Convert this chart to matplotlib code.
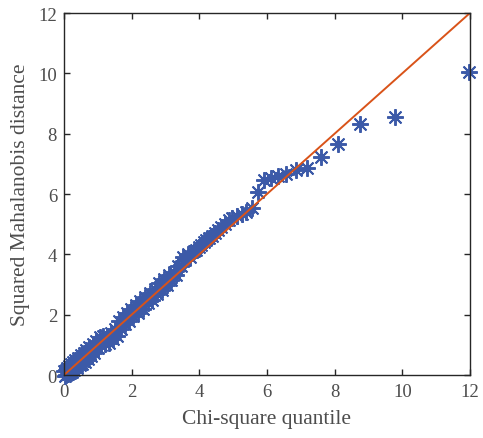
import numpy as np
import matplotlib
matplotlib.use("Agg")
import matplotlib.pyplot as plt

### chi-square quantiles (x) vs squared Mahalanobis distances (y)
chi_q = [0.01, 0.03, 0.05, 0.07, 0.09, 0.12, 0.15, 0.18, 0.21, 0.24,
         0.27, 0.30, 0.34, 0.38, 0.42, 0.46, 0.50, 0.54, 0.58, 0.62,
         0.66, 0.70, 0.75, 0.80, 0.85, 0.90, 0.95, 1.00, 1.05, 1.10,
         1.15, 1.20, 1.26, 1.32, 1.38, 1.44, 1.50, 1.56, 1.62, 1.68,
         1.74, 1.80, 1.86, 1.92, 1.98, 2.05, 2.12, 2.19, 2.26, 2.33,
         2.40, 2.47, 2.54, 2.61, 2.68, 2.75, 2.82, 2.89, 2.96, 3.03,
         3.10, 3.17, 3.24, 3.31, 3.38, 3.45, 3.52, 3.59, 3.66, 3.73,
         3.83, 3.91, 3.98, 4.05, 4.13, 4.20, 4.28, 4.37, 4.46, 4.55,
         4.65, 4.75, 4.87, 4.98, 5.11, 5.25, 5.39, 5.55, 5.73, 5.91,
         6.11, 6.33, 6.57, 6.86, 7.19, 7.59, 8.09, 8.76, 9.78, 11.98]
maha_d2 = [0.14, -0.03, 0.18, 0.00, 0.22, 0.02, 0.30, 0.05, 0.36, 0.10,
           0.42, 0.16, 0.50, 0.22, 0.58, 0.32, 0.66, 0.36, 0.74, 0.44,
           0.82, 0.52, 0.92, 0.64, 1.04, 0.74, 1.14, 0.90, 1.25, 1.00,
           1.30, 1.02, 1.30, 1.06, 1.40, 1.18, 1.54, 1.30, 1.80, 1.52,
           1.92, 1.70, 2.06, 1.80, 2.18, 1.94, 2.32, 2.06, 2.44, 2.20,
           2.60, 2.38, 2.72, 2.50, 2.86, 2.68, 3.04, 2.82, 3.18, 2.98,
           3.32, 3.14, 3.40, 3.30, 3.62, 3.62, 3.90, 3.80, 4.00, 3.92,
           4.12, 4.16, 4.24, 4.30, 4.40, 4.48, 4.55, 4.62, 4.70, 4.80,
           4.90, 5.02, 5.14, 5.22, 5.28, 5.35, 5.42, 5.52, 6.08, 6.45,
           6.52, 6.60, 6.66, 6.78, 6.86, 7.24, 7.66, 8.32, 8.55, 10.05]
ref_line = [0, 12]
xticks = [0, 2, 4, 6, 8, 10, 12]
yticks = [0, 2, 4, 6, 8, 10, 12]

plt.rcParams['font.family'] = ['Liberation Serif', 'DejaVu Serif']

fig = plt.figure(figsize=(4.83, 4.39), dpi=100)
ax = fig.add_axes([0.1325, 0.1435, 0.8405, 0.8246])

# matlab-style '*' marker: 8 spokes
ax.plot(chi_q, maha_d2, linestyle='none', marker=(8, 2, 0), markersize=12,
        markeredgewidth=1.4, color='#3C5AA8', clip_on=False)
ax.plot(ref_line, ref_line, color='#D95319', linewidth=1.4)

ax.set_xlim(0, 12)
ax.set_ylim(0, 12)
ax.set_xticks(xticks)
ax.set_yticks(yticks)
ax.tick_params(direction='in', length=4, width=1, top=True, right=True,
               labelsize=13.5, colors='#262626', labelcolor='#4d4d4d')
ax.tick_params(axis='x', pad=6)
ax.tick_params(axis='y', pad=5)
for s in ax.spines.values():
    s.set_color('#262626')
    s.set_linewidth(1)
ax.set_xlabel('Chi-square quantile', fontsize=15.5, color='#4d4d4d', labelpad=6)
ax.set_ylabel('Squared Mahalanobis distance', fontsize=15.5, color='#4d4d4d', labelpad=6)

fig.savefig('out.png', dpi=100)
